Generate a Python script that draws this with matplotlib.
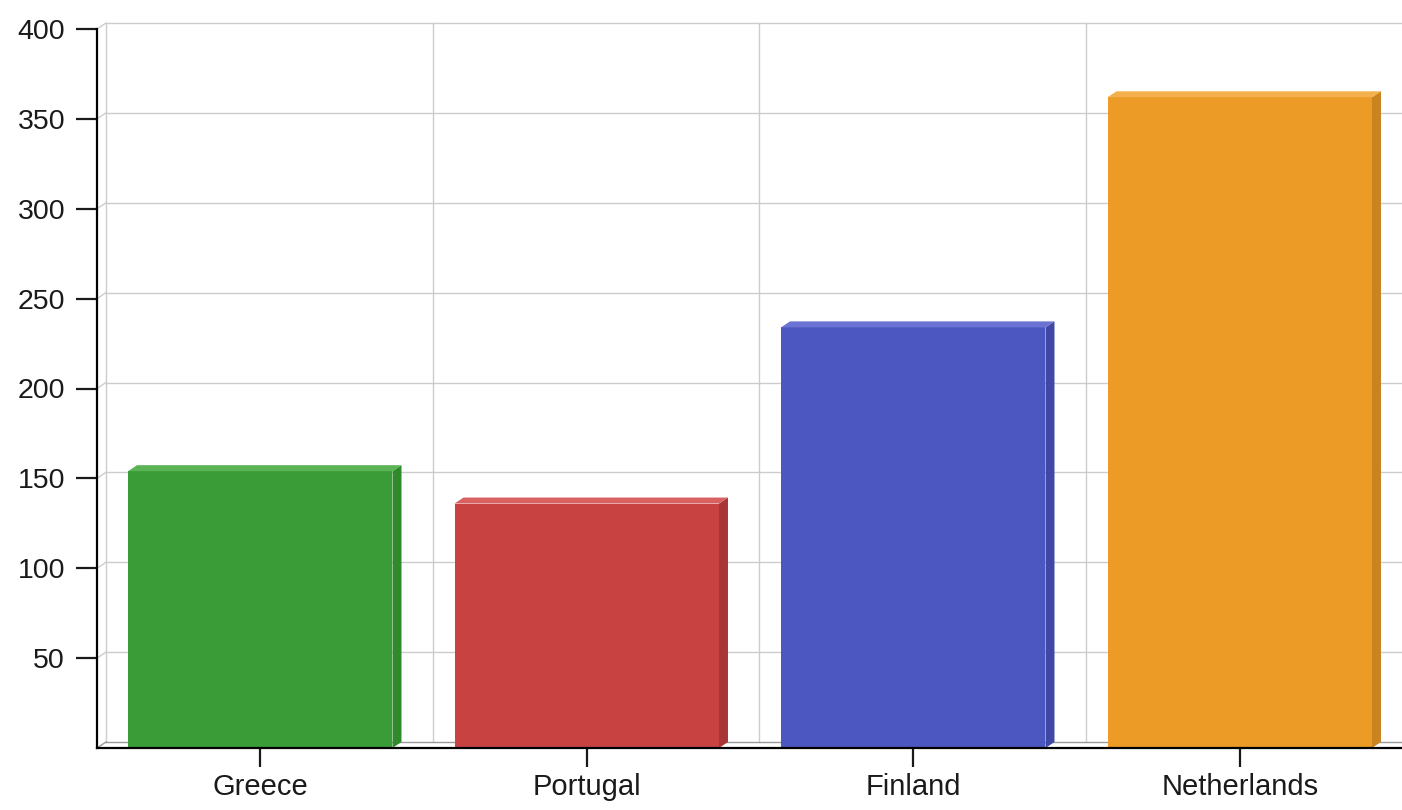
import matplotlib
matplotlib.use("Agg")
import matplotlib.pyplot as plt
from matplotlib.patches import Polygon
import numpy as np

countries = ["Greece", "Portugal", "Finland", "Netherlands"]
values = [154, 136, 234, 362]
face_colors = ["#3a9c36", "#c84242", "#4d57c1", "#eb9b26"]
side_colors = ["#2f8a2c", "#a83636", "#3f48a4", "#c9841f"]
top_colors = ["#5ab455", "#d86060", "#6a73d2", "#f3b04d"]
y_ticks = [50, 100, 150, 200, 250, 300, 350, 400]

plt.rcParams["font.family"] = ["Liberation Sans", "DejaVu Sans"]

W, H = 1402, 810
fig = plt.figure(figsize=(W / 100, H / 100), dpi=100)
ax = fig.add_axes([97 / W, 62 / H, 1306 / W, 719 / H])
ax.set_xlim(-0.5, 3.5)
ax.set_ylim(0, 400)

# depth of the fake 3d, in pixels -> data units
px_x = 1306 / 4.0
px_y = 719 / 400.0
dx = 9 / px_x
dy = 6 / px_y

grid_c = "#cccccc"
x0, x1 = -0.5, 3.5
# back wall horizontal grid + left wall diagonals
for t in y_ticks:
    ax.plot([x0 + dx, x1 + dx], [t + dy, t + dy], color=grid_c, lw=1, clip_on=False, zorder=0)
    ax.plot([x0, x0 + dx], [t, t + dy], color=grid_c, lw=1, clip_on=False, zorder=0)
# back wall vertical grid
for b in [x0, 0.5, 1.5, 2.5]:
    ax.plot([b + dx, b + dx], [dy, 400 + dy], color=grid_c, lw=1, clip_on=False, zorder=0)
# floor
ax.plot([x0 + dx, x1 + dx], [dy, dy], color="#999999", lw=1, clip_on=False, zorder=0)
ax.plot([x0, x0 + dx], [0, dy], color="#999999", lw=1, clip_on=False, zorder=0)

bw = 0.81
xs = np.arange(len(countries))
ax.bar(xs, values, width=bw, color=face_colors, zorder=3)
for x, v, sc, tc in zip(xs, values, side_colors, top_colors):
    l, r = x - bw / 2, x + bw / 2
    ax.add_patch(Polygon([(r, 0), (r + dx, dy), (r + dx, v + dy), (r, v)],
                         closed=True, color=sc, zorder=3, lw=0))
    ax.add_patch(Polygon([(l, v), (l + dx, v + dy), (r + dx, v + dy), (r, v)],
                         closed=True, color=tc, zorder=3, lw=0))

for s in ["top", "right"]:
    ax.spines[s].set_visible(False)
ax.spines["left"].set_linewidth(1.6)
ax.spines["bottom"].set_linewidth(1.6)
ax.spines["left"].set_zorder(5)
ax.spines["bottom"].set_zorder(5)

ax.set_yticks(y_ticks)
ax.set_xticks(xs)
ax.set_xticklabels(countries)
ax.tick_params(axis="y", length=15, width=1.6, pad=8, labelsize=20.5, colors="#1a1a1a")
ax.tick_params(axis="x", length=14, width=1.6, pad=4, labelsize=21, colors="#1a1a1a")

fig.savefig("out.png", dpi=100)
